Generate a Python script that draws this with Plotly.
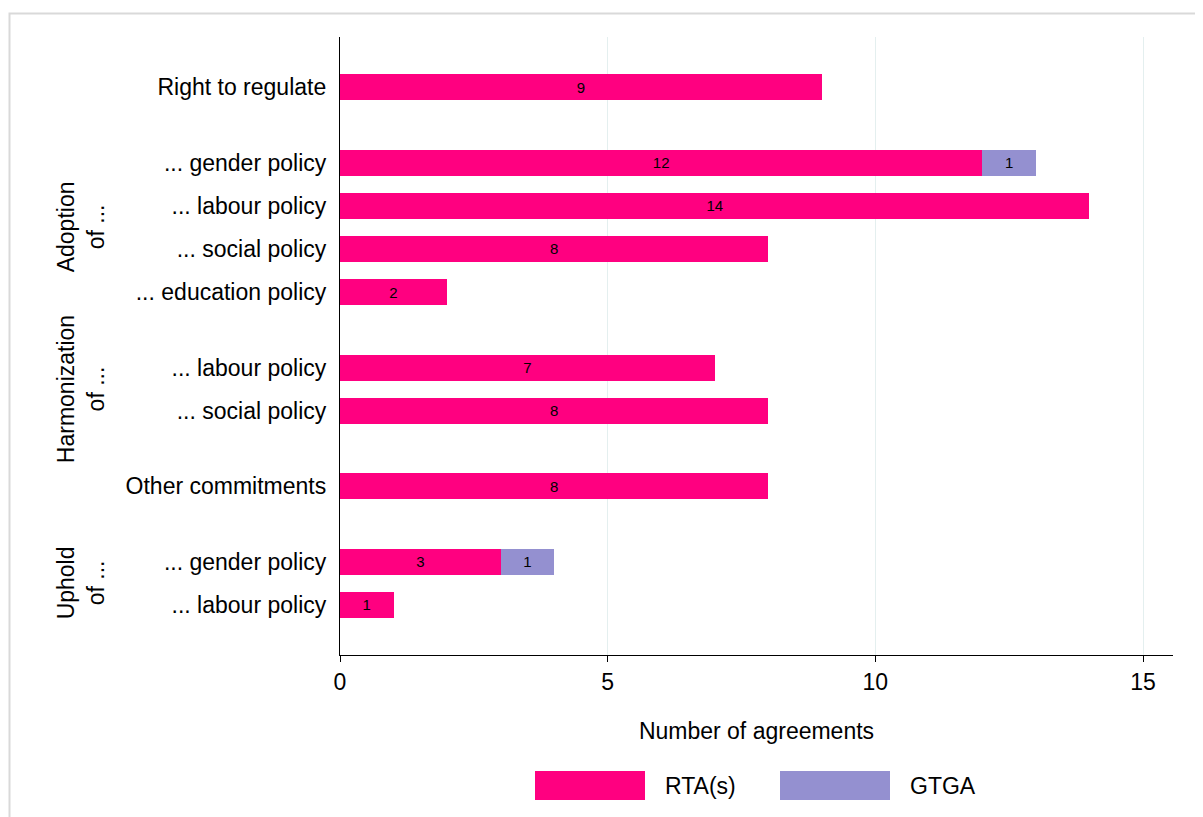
import plotly.graph_objects as go

# ---- data ----
categories = ["Right to regulate",
              "... gender policy", "... labour policy", "... social policy", "... education policy",
              "... labour policy", "... social policy",
              "Other commitments",
              "... gender policy", "... labour policy"]
groups = ["", "Adoption of ...", "Adoption of ...", "Adoption of ...", "Adoption of ...",
          "Harmonization of ...", "Harmonization of ...", "", "Uphold of ...", "Uphold of ..."]
blocks = [0, 1, 1, 1, 1, 2, 2, 3, 4, 4]
rta = [9, 12, 14, 8, 2, 7, 8, 8, 3, 1]
gtga = [0, 1, 0, 0, 0, 0, 0, 0, 1, 0]
series_names = ["RTA(s)", "GTGA"]
colors = ["#FF0080", "#9490D0"]
xticks = [0, 5, 10, 15]
x_title = "Number of agreements"
group_labels = {"Adoption of ...": "Adoption<br>of ...",
                "Harmonization of ...": "Harmonization<br>of ...",
                "Uphold of ...": "Uphold<br>of ..."}

# ---- positions (layout from group structure) ----
GAP = 0.75
pos = []
p = 0.0
for i, b in enumerate(blocks):
    if i > 0:
        p += 1.0 + (GAP if b != blocks[i - 1] else 0.0)
    pos.append(p)

FONT = "Liberation Sans, Arial, sans-serif"
OFF = 8  # page body margin
W, H = 1203 - OFF, 817 - OFF
# plot area in window pixels: x 340..1173, y 37..655
L, T = 340 - OFF, 37 - OFF
R = W - (1173 - OFF)
B = H - (655 - OFF)
pw, ph = W - L - R, H - T - B
FS = 23

fig = go.Figure()
for vals, name, col in [(rta, series_names[0], colors[0]), (gtga, series_names[1], colors[1])]:
    fig.add_trace(go.Bar(
        y=pos, x=[v if v else None for v in vals], orientation="h", name=name,
        marker=dict(color=col, line=dict(width=0)), width=0.6,
        text=[str(v) if v else "" for v in vals], textposition="inside",
        insidetextanchor="middle", textangle=0,
        textfont=dict(size=15, color="black", family=FONT),
        showlegend=False, hoverinfo="x+name"))

ymin, ymax = -1.16, pos[-1] + 1.16
fig.update_layout(
    barmode="stack", width=W, height=H,
    margin=dict(l=L, r=R, t=T, b=B),
    paper_bgcolor="white", plot_bgcolor="white",
    font=dict(family=FONT, size=FS, color="black"),
    uniformtext=dict(minsize=15, mode="show"),
    xaxis=dict(range=[0, 15.56], tickvals=xticks, ticks="outside", ticklen=6,
               tickcolor="black", tickwidth=1.3, showline=True, linecolor="black",
               linewidth=1.3, showgrid=True, gridcolor="#E4EFEF", gridwidth=1,
               zeroline=False, tickfont=dict(size=FS),
               title=dict(text=x_title, font=dict(size=FS), standoff=29)),
    yaxis=dict(range=[ymax, ymin], tickvals=pos, ticktext=categories, ticks="",
               showline=True, linecolor="black", linewidth=1.3, showgrid=False,
               zeroline=False, tickfont=dict(size=FS), ticklabelstandoff=8),
)

def px(xw):
    return (xw - OFF - L) / pw

def pyp(yw):
    return (H + OFF - B - yw) / ph

def py_to_paper(yv):
    return (ymax - yv) / (ymax - ymin)

# group labels (rotated)
seen = {}
for g, yv in zip(groups, pos):
    if g:
        seen.setdefault(g, []).append(yv)
for g, ys in seen.items():
    mid = (min(ys) + max(ys)) / 2
    fig.add_annotation(text=group_labels[g], x=px(81), y=py_to_paper(mid),
                       xref="paper", yref="paper", textangle=-90, showarrow=False,
                       font=dict(size=FS), xanchor="center", yanchor="middle")

# custom legend with wide swatches
for (x0, x1, tx), name, col in zip([(535, 645, 663), (780, 890, 908)], series_names, colors):
    fig.add_shape(type="rect", xref="paper", yref="paper", x0=px(x0), x1=px(x1),
                  y0=pyp(800), y1=pyp(771), fillcolor=col, line=dict(width=0))
    fig.add_annotation(text=name, xref="paper", yref="paper", x=px(tx), y=pyp(786),
                       xanchor="left", yanchor="middle", showarrow=False, font=dict(size=FS))

# outer frame
fig.add_shape(type="rect", xref="paper", yref="paper", x0=px(9.5), x1=px(1215),
              y0=pyp(830), y1=pyp(13.5), line=dict(color="#D9D9D9", width=2),
              fillcolor="rgba(0,0,0,0)", layer="below")

fig.write_html("out.html")
